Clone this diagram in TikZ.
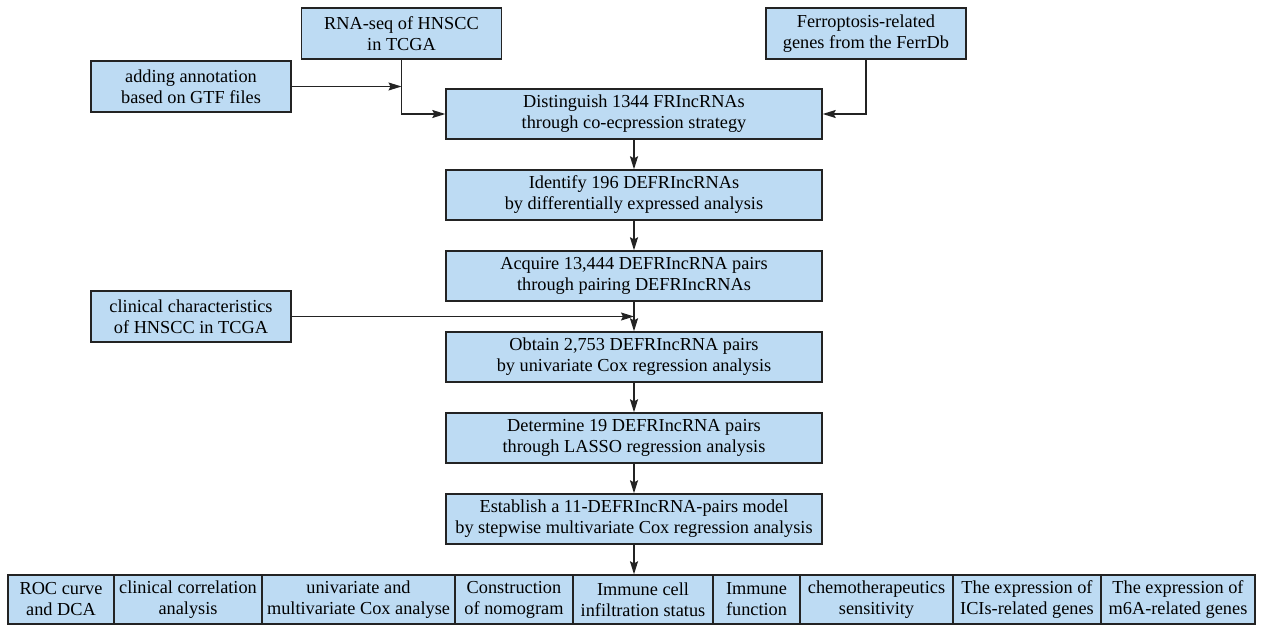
\documentclass[tikz,border=0pt]{standalone}
\usepackage{fontspec}
\setmainfont{Liberation Serif}
\usetikzlibrary{arrows.meta}
\definecolor{boxfill}{RGB}{189,219,243}
\definecolor{boxline}{RGB}{35,35,35}
\begin{document}
\begin{tikzpicture}[x=1pt,y=-1pt,
  box/.style={draw=boxline, fill=boxfill, line width=1.4pt, inner sep=0pt, align=center,
    font=\fontsize{18.3}{21}\selectfont, anchor=center},
  mainbox/.style={box, minimum width=376pt, minimum height=50pt},
  sidebox/.style={box, minimum width=200pt, minimum height=51pt},
  rowbox/.style={box, minimum height=49pt},
  conn/.style={draw=boxline, line width=1.2pt, -{Stealth[length=13pt,width=8pt,inset=2pt]}},
]
\useasboundingbox (0,0) rectangle (1261,626);

% top inputs
\node[sidebox] (rna) at (401.5,33.5) {RNA-seq of HNSCC\\in TCGA};
\node[sidebox] (ann) at (191,86.5) {adding annotation\\based on GTF files};
\node[sidebox] (fer) at (866,33.5) {Ferroptosis-related\\genes from the FerrDb};
\node[sidebox] (clin) at (191,316.5) {clinical characteristics\\of HNSCC in TCGA};

% main column
\node[mainbox] (d1) at (634,114) {Distinguish 1344 FRIncRNAs\\through co-ecpression strategy};
\node[mainbox] (d2) at (634,195) {Identify 196 DEFRIncRNAs\\by differentially expressed analysis};
\node[mainbox] (d3) at (634,276) {Acquire 13,444 DEFRIncRNA pairs\\through pairing DEFRIncRNAs};
\node[mainbox] (d4) at (634,357) {Obtain 2,753 DEFRIncRNA pairs\\by univariate Cox regression analysis};
\node[mainbox] (d5) at (634,438) {Determine 19 DEFRIncRNA pairs\\through LASSO regression analysis};
\node[mainbox] (d6) at (634,519) {Establish a 11-DEFRIncRNA-pairs model\\by stepwise multivariate Cox regression analysis};

% bottom row
\node[rowbox, minimum width=106pt] (b1) at (61,599.5) {ROC curve\\and DCA};
\node[rowbox, minimum width=148pt] (b2) at (188,599.5) {clinical correlation\\analysis};
\node[rowbox, minimum width=193pt] (b3) at (358.5,599.5) {univariate and\\multivariate Cox analyse};
\node[rowbox, minimum width=118pt] (b4) at (514,599.5) {Construction\\of nomogram};
\node[rowbox, minimum width=140pt] (b5) at (643,599.5) {Immune cell\\infiltration status};
\node[rowbox, minimum width=87pt] (b6) at (756.5,599.5) {Immune\\function};
\node[rowbox, minimum width=153pt] (b7) at (876.5,599.5) {chemotherapeutics\\sensitivity};
\node[rowbox, minimum width=148pt] (b8) at (1027,599.5) {The expression of\\ICIs-related genes};
\node[rowbox, minimum width=154pt] (b9) at (1178,599.5) {The expression of\\m6A-related genes};

% connectors
\draw[conn] (ann.east) -- (ann.east -| rna.south);
\draw[conn] (rna.south) |- (d1.west);
\draw[conn] (fer.south) |- (d1.east);
\draw[conn] (d1.south) -- (d2.north);
\draw[conn] (d2.south) -- (d3.north);
\draw[conn] (d3.south) -- (d4.north);
\draw[conn] (clin.east) -- (clin.east -| d3.south);
\draw[conn] (d4.south) -- (d5.north);
\draw[conn] (d5.south) -- (d6.north);
\draw[conn] (d6.south) -- (d6.south |- b5.north);
\end{tikzpicture}
\end{document}
